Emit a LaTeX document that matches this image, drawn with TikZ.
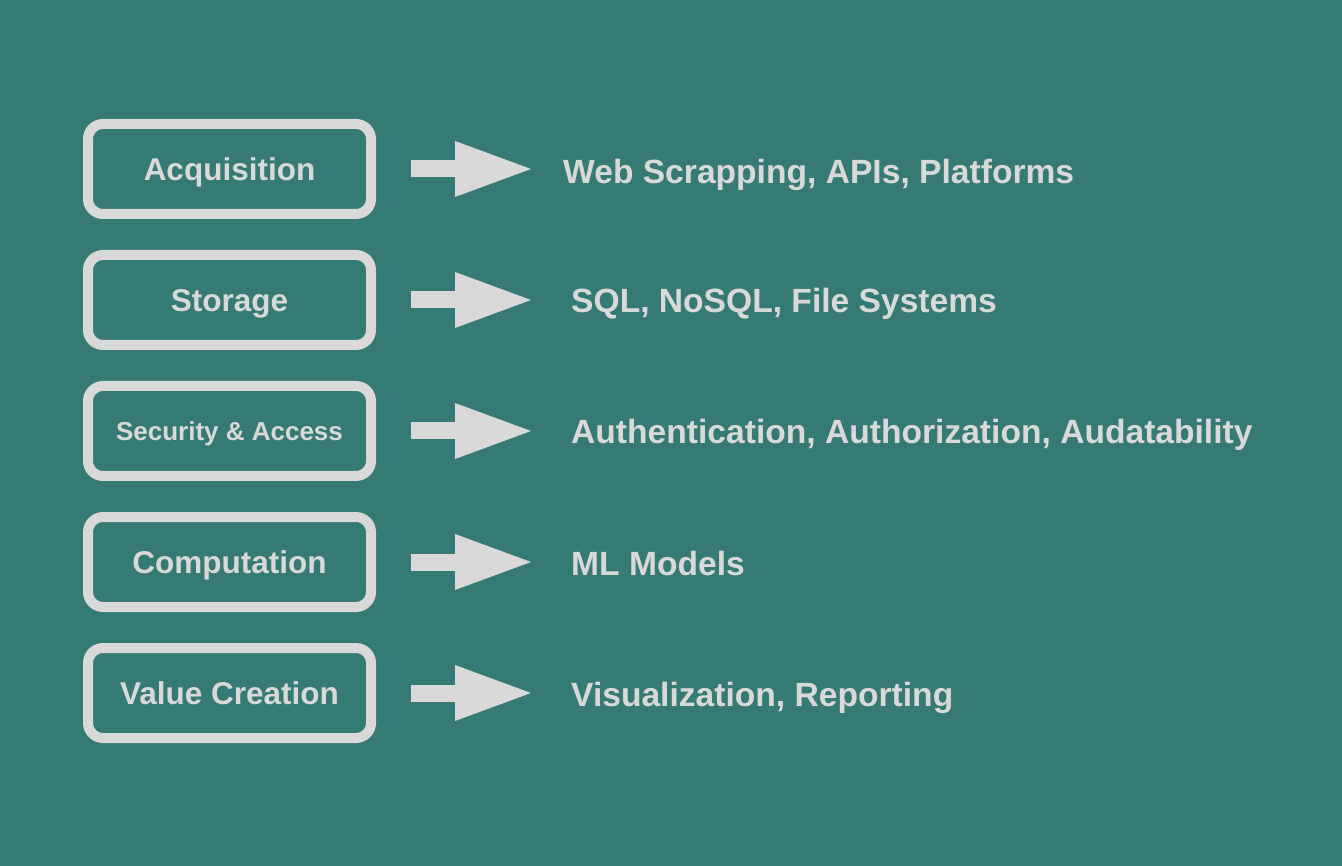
\documentclass[tikz,border=0pt]{standalone}
\usepackage{fontspec}
\setmainfont{Liberation Sans}
\usepackage{tikz}
\usetikzlibrary{arrows.meta,positioning}
\definecolor{dpTeal}{HTML}{357A74}
\definecolor{dpGrey}{HTML}{D9D9D9}
\tikzset{
  stage box/.style={draw=dpGrey,line width=10pt,rounded corners=15pt,
    minimum width=283pt,minimum height=90pt,inner sep=0pt,text=dpGrey,
    font=\bfseries\fontsize{31.5}{36}\selectfont,text height=22.6pt,text depth=0pt},
  tool text/.style={anchor=west,inner sep=0pt,text=dpGrey,
    font=\bfseries\fontsize{33.6}{40}\selectfont,text height=24pt,text depth=0pt},
  stage arrow/.style={draw=dpGrey,line width=17pt,
    -{Triangle[length=76pt,width=56pt,line width=0pt]}}
}
\begin{document}
\begin{tikzpicture}[x=1pt,y=-1pt]
\fill[dpTeal] (0,0) rectangle (1342,866);
\useasboundingbox (0,0) rectangle (1342,866);
\node[stage box] (acq) at (229.5,169) {Acquisition};
\node[stage box] (stor) at (229.5,300) {Storage};
\node[stage box,font=\bfseries\fontsize{26}{30}\selectfont,text height=18.6pt] (sec) at (229.5,431) {Security \& Access};
\node[stage box] (comp) at (229.5,562) {Computation};
\node[stage box] (value) at (229.5,693) {Value Creation};
\node[tool text] (acqtools) at (563,172) {Web Scrapping, APIs, Platforms};
\node[tool text] (stortools) at (571,301) {SQL, NoSQL, File Systems};
\node[tool text] (sectools) at (571,432) {Authentication, Authorization, Audatability};
\node[tool text] (comptools) at (571,563) {ML Models};
\node[tool text] (valuetools) at (571,694) {Visualization, Reporting};
\draw[stage arrow] (acq.east) ++(35pt,0) -- ++(120pt,0);
\draw[stage arrow] (stor.east) ++(35pt,0) -- ++(120pt,0);
\draw[stage arrow] (sec.east) ++(35pt,0) -- ++(120pt,0);
\draw[stage arrow] (comp.east) ++(35pt,0) -- ++(120pt,0);
\draw[stage arrow] (value.east) ++(35pt,0) -- ++(120pt,0);
\end{tikzpicture}
\end{document}
